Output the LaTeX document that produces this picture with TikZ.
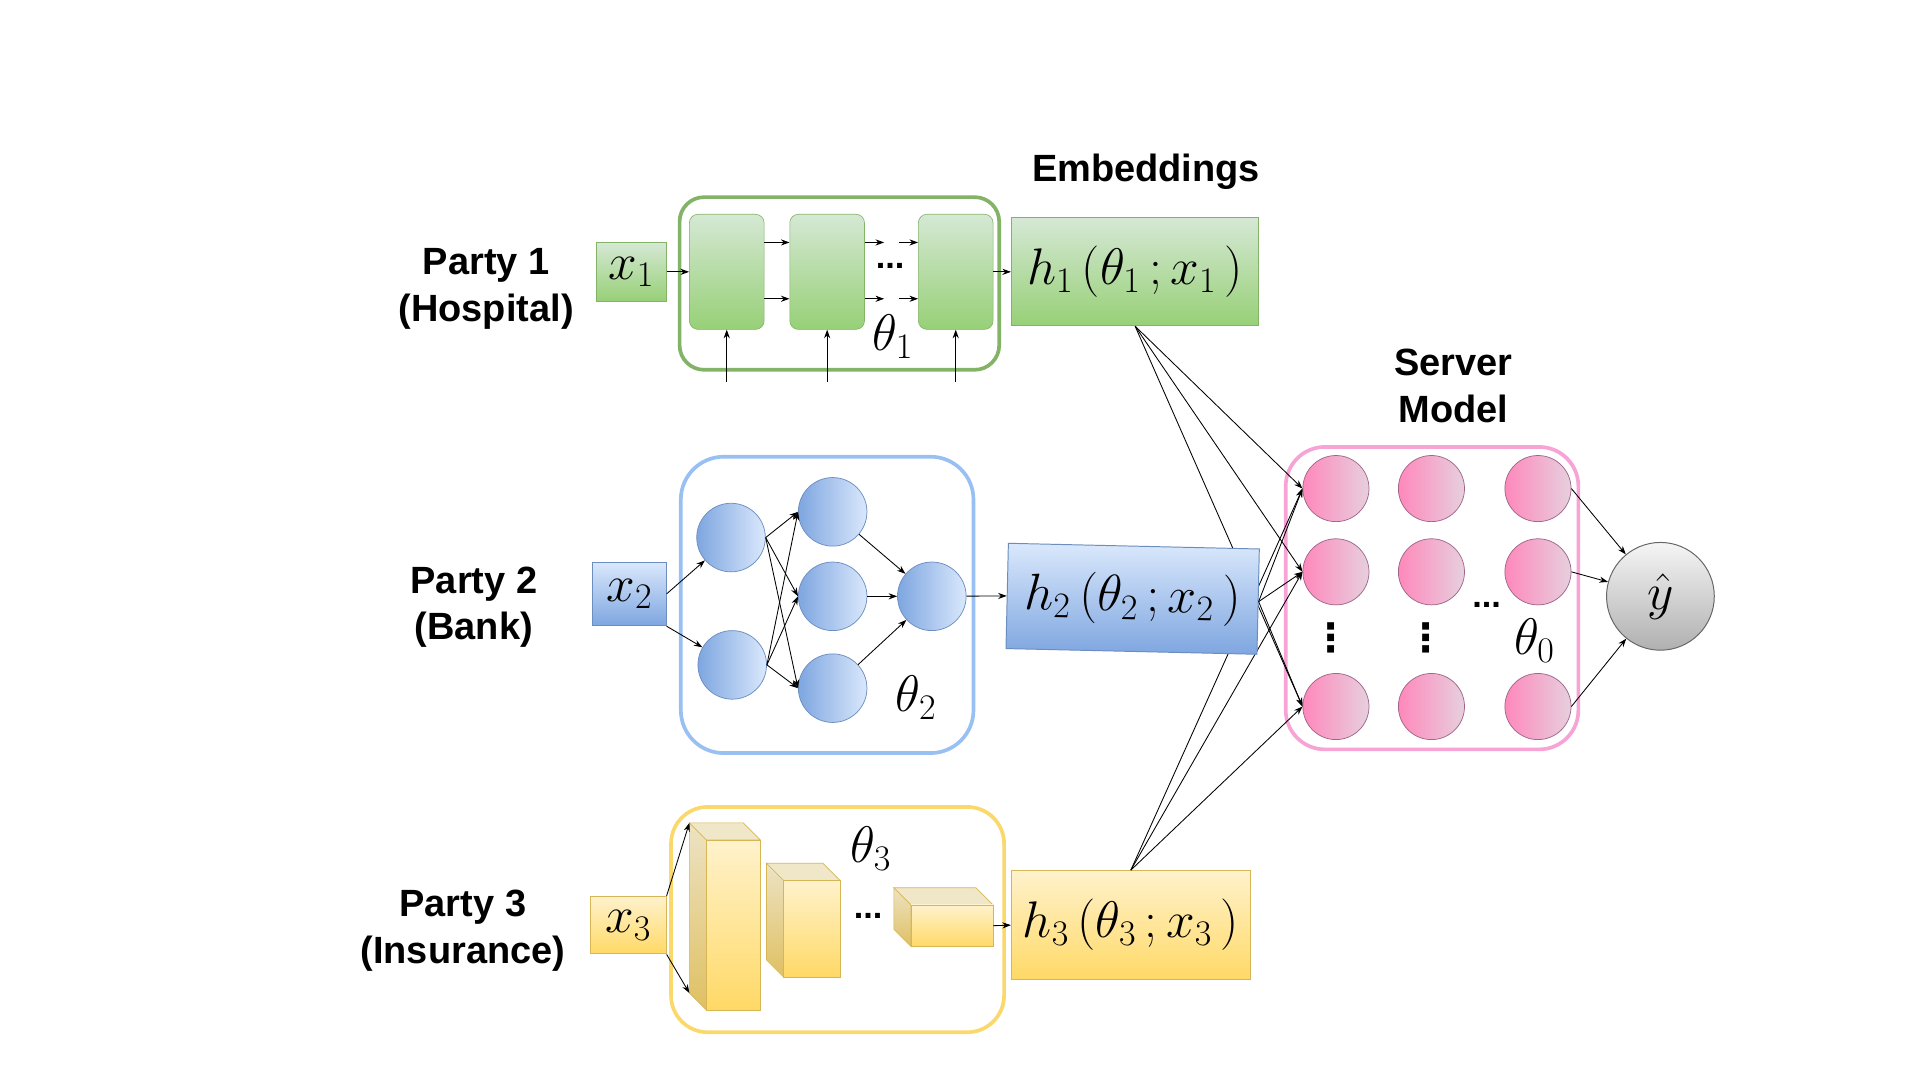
\RequirePackage{fix-cm}
\documentclass[tikz,border=0pt]{standalone}
\usepackage{fontspec}
\newfontfamily\lbf{Liberation Sans}
\newfontfamily\djv{DejaVu Sans}
\usetikzlibrary{arrows.meta,calc}

\definecolor{gTop}{HTML}{D5E8D4}
\definecolor{gBot}{HTML}{97D077}
\definecolor{gLine}{HTML}{82B366}
\definecolor{bTop}{HTML}{DAE8FC}
\definecolor{bBot}{HTML}{7EA6E0}
\definecolor{bLine}{HTML}{6C8EBF}
\definecolor{bFrame}{HTML}{99C0F2}
\definecolor{yTop}{HTML}{FFF2CC}
\definecolor{yBot}{HTML}{FFD966}
\definecolor{yLine}{HTML}{D6B656}
\definecolor{yFrame}{HTML}{FAD86C}
\definecolor{ySideT}{HTML}{EDE3C4}
\definecolor{ySideB}{HTML}{DFC062}
\definecolor{yTopFace}{HTML}{F0E6C8}
\definecolor{pLeft}{HTML}{FF88BB}
\definecolor{pRight}{HTML}{E6D0DE}
\definecolor{pLine}{HTML}{A0668A}
\definecolor{pFrame}{HTML}{F8A3D6}
\definecolor{grTop}{HTML}{F5F5F5}
\definecolor{grBot}{HTML}{B0B0B0}
\definecolor{grLine}{HTML}{666666}

\tikzset{
  lbl/.style={font=\lbf\bfseries\fontsize{31}{38}\selectfont, align=center},
  mth/.style={font=\fontsize{42}{50}\selectfont},
  dotsty/.style={font=\lbf\bfseries\fontsize{28}{10}\selectfont, inner sep=0pt},
  vdotsty/.style={font=\djv\bfseries\fontsize{32}{32}\selectfont, inner sep=0pt},
  frame/.style={line width=3pt, rounded corners=#1, inner sep=0pt},
  gbox/.style={draw=gLine, line width=0.8pt, top color=gTop, bottom color=gBot, inner sep=0pt},
  bbox/.style={draw=bLine, line width=0.8pt, top color=bTop, bottom color=bBot, inner sep=0pt},
  ybox/.style={draw=yLine, line width=0.8pt, top color=yTop, bottom color=yBot, inner sep=0pt},
  gblk/.style={gbox, rounded corners=7pt, line width=0.5pt, minimum width=61pt, minimum height=94pt},
  neu/.style={circle, draw=bLine, line width=0.6pt, left color=bBot, right color=bTop, minimum size=56pt, inner sep=0pt},
  srvn/.style={circle, draw=pLine, line width=0.6pt, left color=pLeft, right color=pRight, minimum size=54pt, inner sep=0pt},
  outn/.style={circle, draw=grLine, line width=0.8pt, top color=grTop, bottom color=grBot, minimum size=88pt, inner sep=0pt},
  sideface/.style={draw=yLine, line width=0.5pt, top color=ySideT, bottom color=ySideB},
  topface/.style={draw=yLine, line width=0.5pt, fill=yTopFace},
  frontface/.style={draw=yLine, line width=0.5pt, top color=yTop, bottom color=yBot},
  arr/.style={-{Stealth[length=7pt,width=5pt]}, line width=0.7pt, black},
}

\newcommand{\cubo}[5]{%
  \coordinate (#1a) at (#2,#3);
  \coordinate (#1b) at (#4,#3);
  \coordinate (#1c) at (#4,#5);
  \coordinate (#1d) at (#2,#5);
  \coordinate (#1e) at ($(#1a)+(-14,-14)$);
  \coordinate (#1f) at ($(#1b)+(-14,-14)$);
  \coordinate (#1g) at ($(#1d)+(-14,-14)$);
  \shadedraw[sideface] (#1e) -- (#1a) -- (#1d) -- (#1g) -- cycle;
  \filldraw[topface] (#1e) -- (#1f) -- (#1b) -- (#1a) -- cycle;
  \shadedraw[frontface] (#1a) -- (#1b) -- (#1c) -- (#1d) -- cycle;
}

\begin{document}
\begin{tikzpicture}[x=1pt,y=-1pt]
\path[use as bounding box, fill=white] (0,0) rectangle (1568,882);

% ---------- labels ----------
\node[lbl] (p1) at (397,236) {Party 1\\(Hospital)};
\node[lbl] (p2) at (387,496) {Party 2\\(Bank)};
\node[lbl] (p3) at (378,760) {Party 3\\(Insurance)};
\node[lbl] (emb) at (936,140) {Embeddings};
\node[lbl] (srv) at (1187,315) {Server\\Model};

% ---------- Party 1 ----------
\node[frame=20pt, draw=gLine, minimum width=261pt, minimum height=141pt] (f1) at (685.5,231.5) {};
\node[gbox, mth, minimum width=57pt, minimum height=48pt] (x1) at (515.5,222) {$x_1$};
\node[gblk] (b1) at (593.5,222) {};
\node[gblk] (b2) at (675.5,222) {};
\node[gblk] (b3) at (780.5,222) {};
\node[gbox, mth, minimum width=202pt, minimum height=88pt] (h1) at (927,222) {$h_1\,(\theta_1\,;x_1\,)$};
\draw[arr] (x1) -- (b1);
\draw[arr] ([yshift=24pt]b1.east) -- ([yshift=24pt]b2.west);
\draw[arr] ([yshift=-22pt]b1.east) -- ([yshift=-22pt]b2.west);
\coordinate (d1a) at (722,198); \coordinate (d1b) at (734,198);
\coordinate (d2a) at (722,244); \coordinate (d2b) at (734,244);
\draw[arr] ([yshift=24pt]b2.east) -- (d1a);
\draw[arr] (d1b) -- ([yshift=24pt]b3.west);
\draw[arr] ([yshift=-22pt]b2.east) -- (d2a);
\draw[arr] (d2b) -- ([yshift=-22pt]b3.west);
\node[dotsty] (dd1) at (727,217) {...};
\coordinate (u1) at (593.5,312);
\coordinate (u2) at (675.5,312);
\coordinate (u3) at (780.5,312);
\draw[arr] (u1) -- (b1.south);
\draw[arr] (u2) -- (b2.south);
\draw[arr] (u3) -- (b3.south);
\draw[arr] (b3) -- (h1);
\node[mth] (t1) at (729,275) {$\theta_1$};

% ---------- Party 2 ----------
\node[frame=35pt, draw=bFrame, minimum width=239pt, minimum height=242pt] (f2) at (675.5,494) {};
\node[bbox, mth, minimum width=60pt, minimum height=52pt] (x2) at (514,485) {$x_2$};
\node[neu] (n1) at (597,439) {};
\node[neu] (n2) at (598,543) {};
\node[neu] (m1) at (680,418) {};
\node[neu] (m2) at (680,487) {};
\node[neu] (m3) at (680,562) {};
\node[neu] (o)  at (761,487) {};
\draw[arr] (x2.east) -- (n1);
\draw[arr] (x2.south east) -- (n2);
\foreach \a in {n1,n2} {\foreach \b in {m1,m2,m3} {\draw[arr] (\a.east) -- (\b.west);}}
\foreach \b in {m1,m2,m3} {\draw[arr] (\b) -- (o);}
\node[mth] (t2) at (748,570) {$\theta_2$};

% ---------- Party 3 ----------
\node[frame=30pt, draw=yFrame, minimum width=272pt, minimum height=184pt] (f3) at (684,751) {};
\node[ybox, mth, minimum width=62pt, minimum height=47pt] (x3) at (513,755.5) {$x_3$};
\cubo{ca}{577}{686}{621}{825}
\cubo{cb}{640}{719}{686}{798}
\cubo{cc}{744}{739}{811}{773}
\node[ybox, mth, minimum width=195pt, minimum height=89pt] (h3) at (923.5,755.5) {$h_3\,(\theta_3\,;x_3\,)$};
\draw[arr] (x3.north east) -- (cae);
\draw[arr] (x3.south east) -- (cag);
\coordinate (cce) at (811,756);
\draw[arr] (cce) -- (h3.west);
\node[dotsty] (dd3) at (709,748) {...};
\node[mth] (t3) at (711,693) {$\theta_3$};

% ---------- Server ----------
\node[frame=32pt, draw=pFrame, minimum width=239pt, minimum height=247pt] (f0) at (1169.5,488.5) {};
\node[srvn] (s11) at (1091,399) {};
\node[srvn] (s12) at (1169,399) {};
\node[srvn] (s13) at (1256,399) {};
\node[srvn] (s21) at (1091,467) {};
\node[srvn] (s22) at (1169,467) {};
\node[srvn] (s23) at (1256,467) {};
\node[srvn] (s31) at (1091,577) {};
\node[srvn] (s32) at (1169,577) {};
\node[srvn] (s33) at (1256,577) {};
\node[vdotsty] (vd1) at (1087,521) {⋮};
\node[vdotsty] (vd2) at (1165,521) {⋮};
\node[dotsty] (hd0) at (1214,494) {...};
\node[mth] (t0) at (1253,523) {$\theta_0$};
\node[outn, mth] (yh) at (1356,487) {$\hat{y}$};
\draw[arr] (s13.east) -- (yh);
\draw[arr] (s23.east) -- (yh);
\draw[arr] (s33.east) -- (yh);

% embeddings -> server (behind h2)
\foreach \s in {s11,s21,s31} {
  \draw[arr] (h1.south) -- (\s.west);
  \draw[arr] (h3.north) -- (\s.west);
}
\node[bbox, mth, rotate=-1.3, minimum width=205pt, minimum height=86pt] (h2) at (925,489) {$h_2\,(\theta_2\,;x_2\,)$};
\draw[arr] (o) -- (h2.west);
\foreach \s in {s11,s21,s31} {\draw[arr] (h2.east) -- (\s.west);}
\end{tikzpicture}
\end{document}
